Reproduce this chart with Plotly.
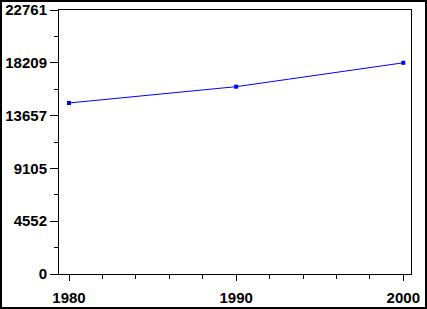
import plotly.graph_objects as go

years = [1980, 1990, 2000]
values = [14745, 16150, 18209]
y_tick_vals = [0, 4552.2, 9104.4, 13656.6, 18208.8, 22761]
y_tick_text = ["0", "4552", "9105", "13657", "18209", "22761"]
x_tick_vals = [1980, 1990, 2000]
x_tick_text = ["1980", "1990", "2000"]

W, H = 427, 309
L, R, T, B = 59, 16, 10, 35
pw, ph = W - L - R, H - T - B

fig = go.Figure()
fig.add_trace(go.Scatter(
    x=years, y=values, mode="lines+markers",
    line=dict(color="#0000ff", width=1),
    marker=dict(symbol="square", size=4, color="#0000ff"),
    showlegend=False, hoverinfo="skip", cliponaxis=False,
))

font = dict(family="Liberation Sans, Arial, sans-serif", size=15, color="black",
            weight="bold")

fig.update_layout(
    width=W, height=H,
    margin=dict(l=L, r=R, t=T, b=B, pad=0, autoexpand=False),
    paper_bgcolor="white", plot_bgcolor="white",
    font=font,
    xaxis=dict(
        range=[1979.4, 2000.46], showgrid=False, zeroline=False, automargin=False,
        showline=True, linecolor="black", linewidth=1, mirror=True,
        tickmode="array", tickvals=x_tick_vals, ticktext=x_tick_text,
        ticks="outside", ticklen=6, tickcolor="black", tickwidth=1,
        ticklabelstandoff=4,
        minor=dict(ticks="outside", ticklen=4, dtick=2, tick0=1980,
                   tickcolor="black", tickwidth=1, showgrid=False),
        tickfont=font,
    ),
    yaxis=dict(
        range=[0, 22761], showgrid=False, zeroline=False, automargin=False,
        showline=True, linecolor="black", linewidth=1, mirror=True,
        tickmode="array", tickvals=y_tick_vals, ticktext=y_tick_text,
        ticks="outside", ticklen=8, tickcolor="black", tickwidth=1,
        ticklabelstandoff=0,
        minor=dict(ticks="outside", ticklen=4, dtick=2276.1, tick0=0,
                   tickcolor="black", tickwidth=1, showgrid=False),
        tickfont=font,
    ),
    shapes=[dict(
        type="rect", xref="paper", yref="paper",
        x0=(1 - L) / pw, x1=(426 - L) / pw,
        y0=(H - B - 308) / ph, y1=(H - B - 1) / ph,
        line=dict(color="black", width=2), fillcolor="rgba(0,0,0,0)",
        layer="above",
    )],
)

fig.write_html("out.html")
